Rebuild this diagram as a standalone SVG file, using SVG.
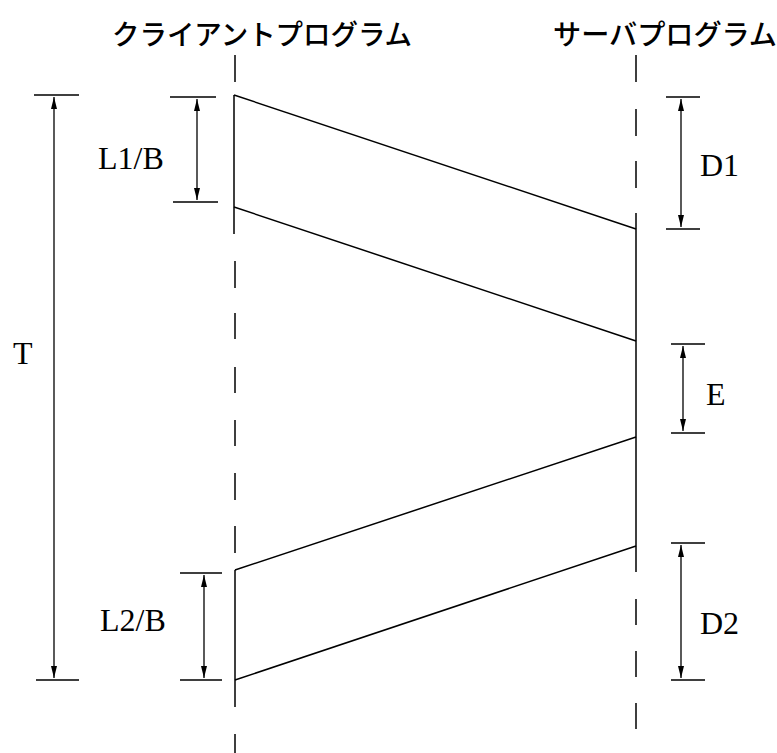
<svg xmlns="http://www.w3.org/2000/svg" width="777" height="753" viewBox="0 0 777 753">
<style>
.ln{stroke:#000;stroke-width:1.5;fill:none}
.dim{stroke:#000;stroke-width:1.3;fill:none}
.lbl{font-family:"Liberation Serif","Times New Roman",serif;font-size:32px;fill:#000}
.hdr{font-family:"Noto Sans CJK JP","Noto Sans",sans-serif;font-size:28px;font-weight:500;fill:#000}
</style>
<defs>
<marker id="ah" markerUnits="userSpaceOnUse" markerWidth="12" markerHeight="8" refX="12" refY="4" orient="auto-start-reverse">
<path d="M0,1 L12,4 L0,7 z" fill="#000"/>
</marker>
</defs>
<rect width="777" height="753" fill="#fff"/>
<g id="client">
<text class="hdr" x="112" y="45" textLength="300" lengthAdjust="spacingAndGlyphs">クライアントプログラム</text>
<path class="ln" d="M235,55V82 M234,95V234 M235,261V288 M235,313V339 M235,367V393 M235,420V446 M235,473V500 M235,526V553 M235,570V707 M235,734V753"/>
</g>
<g id="server">
<text class="hdr" x="553" y="45" textLength="224" lengthAdjust="spacingAndGlyphs">サーバプログラム</text>
<path class="ln" d="M636,55V82 M636,109V136 M636,161V188 M636,213V572 M636,599V625 M636,651V677 M636,703V729"/>
</g>
<g id="connectors">
<line class="ln" x1="234" y1="95" x2="636" y2="229"/>
<line class="ln" x1="234" y1="207" x2="636" y2="341"/>
<line class="ln" x1="235" y1="570" x2="636" y2="437"/>
<line class="ln" x1="235" y1="680" x2="636" y2="546"/>
</g>
<g id="dim-T">
<path class="dim" d="M34,95H79 M36,680H79"/>
<line class="dim" x1="54" y1="97" x2="54" y2="678" marker-start="url(#ah)" marker-end="url(#ah)"/>
<text class="lbl" x="13" y="364">T</text>
</g>
<g id="dim-L1B">
<path class="dim" d="M170,97H216 M173,202H218"/>
<line class="dim" x1="197" y1="99" x2="197" y2="200" marker-start="url(#ah)" marker-end="url(#ah)"/>
<text class="lbl" x="98" y="169">L1/B</text>
</g>
<g id="dim-L2B">
<path class="dim" d="M180,573H222 M180,680H222"/>
<line class="dim" x1="204" y1="575" x2="204" y2="678" marker-start="url(#ah)" marker-end="url(#ah)"/>
<text class="lbl" x="100" y="631">L2/B</text>
</g>
<g id="dim-D1">
<path class="dim" d="M666,97H700 M666,229H700"/>
<line class="dim" x1="681" y1="99" x2="681" y2="227" marker-start="url(#ah)" marker-end="url(#ah)"/>
<text class="lbl" x="700" y="176">D1</text>
</g>
<g id="dim-E">
<path class="dim" d="M671,344H705 M671,433H705"/>
<line class="dim" x1="683" y1="346" x2="683" y2="431" marker-start="url(#ah)" marker-end="url(#ah)"/>
<text class="lbl" x="706" y="405">E</text>
</g>
<g id="dim-D2">
<path class="dim" d="M671,543H705 M671,680H705"/>
<line class="dim" x1="681" y1="545" x2="681" y2="678" marker-start="url(#ah)" marker-end="url(#ah)"/>
<text class="lbl" x="700" y="634">D2</text>
</g>
</svg>
